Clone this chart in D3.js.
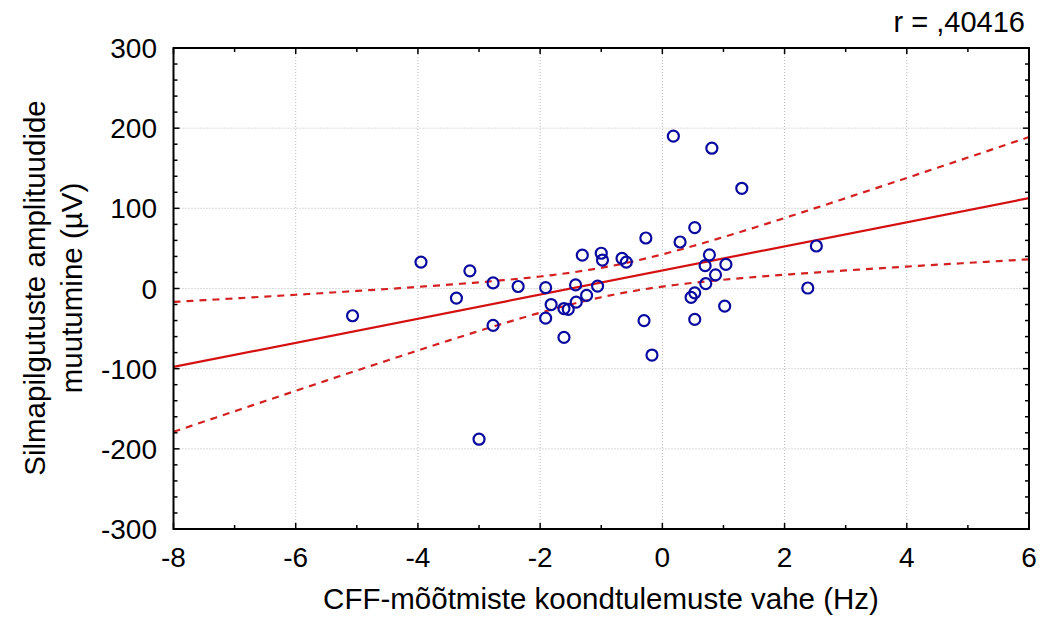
<!DOCTYPE html>
<html>
<head>
<meta charset="utf-8">
<script src="https://cdn.jsdelivr.net/npm/d3@7"></script>
<style>
  body { margin: 0; background: #fff; }
  text { font-family: "Liberation Sans", Arial, sans-serif; fill: #000; }
</style>
</head>
<body>
<div id="chart"></div>
<script>
var width = 1041,
  height = 629;

// data
var cffDiff = [-5.07, -3.95, -3.37, -3.15, -3.0, -2.77, -2.77, -2.36, -1.91, -1.91,
  -1.82, -1.61, -1.54, -1.61, -1.42, -1.41, -1.31, -1.24, -1.06, -1.0,
  -0.98, -0.66, -0.59, -0.27, -0.30, -0.17, 0.18, 0.29, 0.53, 0.81,
  1.30, 0.77, 0.70, 1.04, 0.87, 0.71, 0.53, 0.47, 1.02, 0.53,
  2.52, 2.38];
var amplChange = [-34, 33, -12, 22, -188, 7, -46, 2.5, 1, -37,
  -20, -25, -26, -61, 4.5, -17, 41.6, -8.5, 3, 44,
  35.5, 37.5, 33, 63, -40, -83, 190, 58, 76, 175,
  125, 42, 28.5, 30, 17, 6, -5.4, -11, -22, -38.6,
  53, 0.6];
var xTicks = [-8, -6, -4, -2, 0, 2, 4, 6];
var yTicks = [-300, -200, -100, 0, 100, 200, 300];
var rLabel = "r = ,40416";
var tCrit = 2.021; // t(0.975, 40)

var points = cffDiff.map(function(d, i) { return { x: d, y: amplChange[i] }; });

var x = d3.scaleLinear().domain([-8, 6]).range([173.5, 1029]);
var y = d3.scaleLinear().domain([-300, 300]).range([529, 48]);

var svg = d3.select("#chart").append("svg")
  .attr("width", width)
  .attr("height", height);

// grid
svg.append("g").selectAll("line")
  .data(xTicks.slice(1, -1))
  .enter().append("line")
  .attr("x1", d => x(d)).attr("x2", d => x(d))
  .attr("y1", y(300)).attr("y2", y(-300))
  .attr("stroke", "#b8b8b8").attr("stroke-width", 1).attr("stroke-dasharray", "1,2");
svg.append("g").selectAll("line")
  .data(yTicks.slice(1, -1))
  .enter().append("line")
  .attr("y1", d => y(d)).attr("y2", d => y(d))
  .attr("x1", x(-8)).attr("x2", x(6))
  .attr("stroke", "#b8b8b8").attr("stroke-width", 1).attr("stroke-dasharray", "1,2");

// regression + 95% confidence band
var n = points.length;
var mx = d3.mean(cffDiff), my = d3.mean(amplChange);
var sxx = d3.sum(cffDiff, d => (d - mx) * (d - mx));
var sxy = d3.sum(points, d => (d.x - mx) * (d.y - my));
var slope = sxy / sxx, icpt = my - slope * mx;
var sse = d3.sum(points, d => Math.pow(d.y - (icpt + slope * d.x), 2));
var se = Math.sqrt(sse / (n - 2));

var xs = d3.range(-8, 6.001, 0.1);
function band(sign) {
  return xs.map(function(v) {
    var h = tCrit * se * Math.sqrt(1 / n + (v - mx) * (v - mx) / sxx);
    return [v, icpt + slope * v + sign * h];
  });
}
var line = d3.line().x(d => x(d[0])).y(d => y(d[1]));

svg.append("path")
  .attr("d", line(band(1)))
  .attr("fill", "none").attr("stroke", "#d42020").attr("stroke-width", 2.2)
  .attr("stroke-dasharray", "7,6");
svg.append("path")
  .attr("d", line(band(-1)))
  .attr("fill", "none").attr("stroke", "#d42020").attr("stroke-width", 2.2)
  .attr("stroke-dasharray", "7,6");
svg.append("path")
  .attr("d", line([[-8, icpt + slope * -8], [6, icpt + slope * 6]]))
  .attr("fill", "none").attr("stroke", "#d41010").attr("stroke-width", 2.2);

// points
svg.append("g").selectAll("circle")
  .data(points)
  .enter().append("circle")
  .attr("cx", d => x(d.x))
  .attr("cy", d => y(d.y))
  .attr("r", 5.5)
  .attr("fill", "none")
  .attr("stroke", "#0a0aa0")
  .attr("stroke-width", 2.2);

// frame
svg.append("rect")
  .attr("x", x(-8)).attr("y", y(300))
  .attr("width", x(6) - x(-8)).attr("height", y(-300) - y(300))
  .attr("fill", "none").attr("stroke", "#000").attr("stroke-width", 2);

// ticks (inside)
var xMinor = d3.range(-7, 6, 2);
var yMinor = d3.range(-280, 300, 20).filter(d => d % 100 !== 0);
var tk = svg.append("g").attr("stroke", "#000").attr("stroke-width", 1.5);
xTicks.concat(xMinor).forEach(function(d) {
  var len = d % 2 === 0 ? 6 : 4;
  tk.append("line").attr("x1", x(d)).attr("x2", x(d)).attr("y1", y(300)).attr("y2", y(300) + len);
  tk.append("line").attr("x1", x(d)).attr("x2", x(d)).attr("y1", y(-300)).attr("y2", y(-300) - len);
});
yTicks.concat(yMinor).forEach(function(d) {
  var len = d % 100 === 0 ? 6 : 4;
  tk.append("line").attr("y1", y(d)).attr("y2", y(d)).attr("x1", x(-8)).attr("x2", x(-8) + len);
  tk.append("line").attr("y1", y(d)).attr("y2", y(d)).attr("x1", x(6)).attr("x2", x(6) - len);
});

// tick labels
svg.append("g").selectAll("text")
  .data(xTicks)
  .enter().append("text")
  .attr("x", d => x(d))
  .attr("y", 567)
  .attr("text-anchor", "middle")
  .style("font-size", "28px")
  .text(d => d);
svg.append("g").selectAll("text")
  .data(yTicks)
  .enter().append("text")
  .attr("x", 157)
  .attr("y", d => y(d) + 10)
  .attr("text-anchor", "end")
  .style("font-size", "28px")
  .text(d => d);

// axis titles
svg.append("text")
  .attr("x", 601)
  .attr("y", 609)
  .attr("text-anchor", "middle")
  .style("font-size", "29.5px")
  .text("CFF-mõõtmiste koondtulemuste vahe (Hz)");

var yt = svg.append("text")
  .attr("transform", "translate(0," + 288 + ") rotate(-90)")
  .attr("text-anchor", "middle")
  .style("font-size", "29.5px");
yt.append("tspan").attr("x", 0).attr("y", 45).text("Silmapilgutuste amplituudide");
yt.append("tspan").attr("x", 0).attr("y", 82).text("muutumine (µV)");

svg.append("text")
  .attr("x", 1025)
  .attr("y", 32)
  .attr("text-anchor", "end")
  .style("font-size", "29px")
  .text(rLabel);
</script>
</body>
</html>
